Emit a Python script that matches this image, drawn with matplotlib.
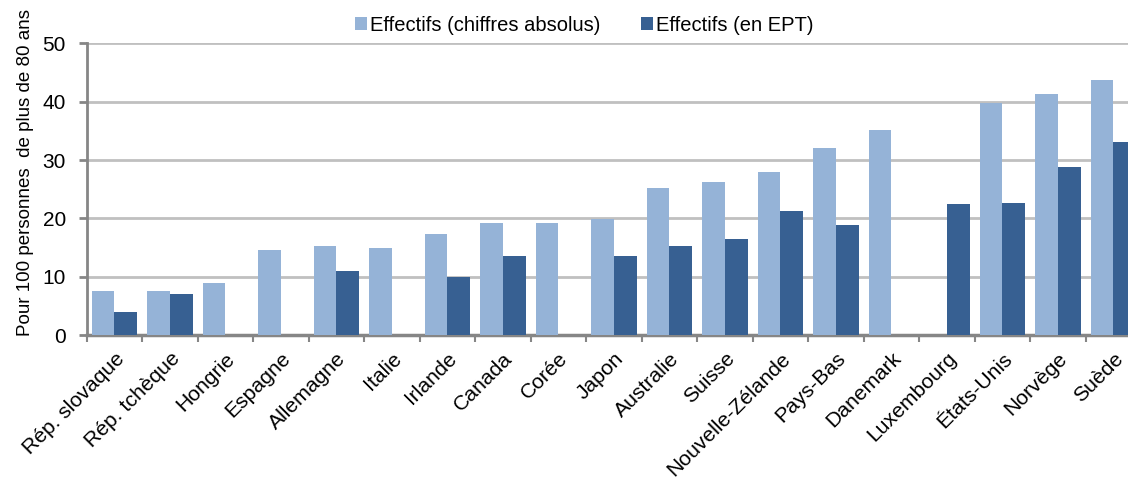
import numpy as np
import matplotlib

matplotlib.use("Agg")
import matplotlib.pyplot as plt

plt.rcParams["font.family"] = ["Liberation Sans", "DejaVu Sans"]

pays = [
    "Rép. slovaque", "Rép. tchèque", "Hongrie", "Espagne", "Allemagne",
    "Italie", "Irlande", "Canada", "Corée", "Japon", "Australie", "Suisse",
    "Nouvelle-Zélande", "Pays-Bas", "Danemark", "Luxembourg", "États-Unis",
    "Norvège", "Suède",
]
# NaN = pas de donnée
effectifs_abs = [7.5, 7.5, 8.9, 14.6, 15.3, 14.9, 17.4, 19.2, 19.2, 19.9,
                 25.2, 26.3, 28.0, 32.0, 35.2, np.nan, 39.8, 41.3, 43.7]
effectifs_ept = [3.9, 7.1, np.nan, np.nan, 11.0, np.nan, 10.0, 13.5, np.nan,
                 13.5, 15.3, 16.4, 21.3, 18.8, np.nan, 22.4, 22.7, 28.8, 33.1]

c_light = "#95b3d7"
c_dark = "#376092"
c_axis = "#868686"
c_grid = "#c0c0c0"

fig = plt.figure(figsize=(11.28, 4.83), dpi=100)
ax = fig.add_axes([0.0769, 0.3064, 0.9347, 0.6036])

x = np.arange(len(pays))
w = 0.41
ax.bar(x - w / 2, effectifs_abs, width=w, color=c_light, zorder=3,
       label="Effectifs (chiffres absolus)")
ax.bar(x + w / 2, effectifs_ept, width=w, color=c_dark, zorder=3,
       label="Effectifs (en EPT)")

ax.set_xlim(-0.5, len(pays) - 0.5)
ax.set_ylim(0, 50)
ax.set_yticks(np.arange(0, 51, 10))
ax.yaxis.grid(True, color=c_grid, lw=2, zorder=0)
ax.set_axisbelow(True)

for s in ["top", "right"]:
    ax.spines[s].set_visible(False)
ax.spines["left"].set_color(c_axis)
ax.spines["left"].set_linewidth(2)
ax.spines["bottom"].set_color(c_axis)
ax.spines["bottom"].set_linewidth(2.5)

# ticks aux limites des catégories
ax.set_xticks(np.arange(len(pays) + 1) - 0.5)
ax.set_xticklabels([])
ax.set_xticks(x, minor=True)
ax.set_xticklabels(pays, minor=True, rotation=45, ha="right",
                   rotation_mode="anchor", fontsize=15.2)
ax.tick_params(axis="x", which="major", length=5, width=1.5, color=c_axis)
ax.tick_params(axis="x", which="minor", length=0, pad=10)
ax.tick_params(axis="y", length=5.5, width=2, color=c_axis, labelsize=15,
               pad=9.5)

ax.set_ylabel("Pour 100 personnes  de plus de 80 ans", fontsize=13.5,
              va="center")
ax.yaxis.set_label_coords(-0.0585, 0.556)

fig.legend(loc="center", bbox_to_anchor=(0.518, 0.948), ncol=2, frameon=False,
           fontsize=14.5, handlelength=0.6, handleheight=0.6,
           handletextpad=0.15, columnspacing=2.0)

fig.savefig("out.png", dpi=100)
